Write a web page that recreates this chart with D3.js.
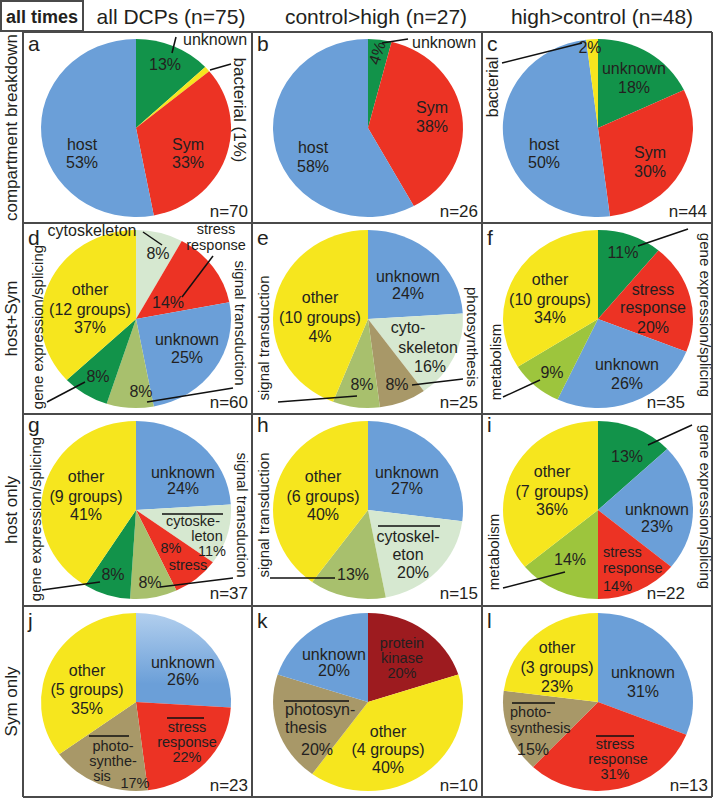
<!DOCTYPE html>
<html><head><meta charset="utf-8">
<script src="https://cdn.jsdelivr.net/npm/d3@7"></script>
<style>
body{margin:0;background:#fff}
svg{display:block}
text{font-family:"Liberation Sans",Arial,Helvetica,sans-serif;fill:#231f20}
</style>
</head><body><svg id="c" width="715" height="799"></svg>
<script>
// ---------- data ----------
const headerBox = "all times";
const columnTitles = ["all DCPs (n=75)", "control>high (n=27)", "high>control (n=48)"];
const rowTitles = ["compartment breakdown", "host+Sym", "host only", "Sym only"];
const panelLetters = ["a","b","c","d","e","f","g","h","i","j","k","l"];
const nLabels = ["n=70","n=26","n=44","n=60","n=25","n=35","n=37","n=15","n=22","n=23","n=10","n=13"];

const catsA = ["unknown","bacterial","Sym","host"];            const valsA = [13,1,33,53];
const catsB = ["unknown","Sym","host"];                        const valsB = [4,38,58];
const catsC = ["unknown","Sym","host","bacterial"];            const valsC = [18,30,50,2];
const catsD = ["cytoskeleton","stress response","unknown","signal transduction","gene expression/splicing","other"]; const valsD = [8,14,25,8,8,37];
const catsE = ["unknown","cytoskeleton","photosynthesis","signal transduction","other"]; const valsE = [24,16,8,8,44];
const catsF = ["gene expression/splicing","stress response","unknown","metabolism","other"]; const valsF = [11,20,26,9,34];
const catsG = ["unknown","cytoskeleton","stress response","signal transduction","gene expression/splicing","other"]; const valsG = [24,11,8,8,8,41];
const catsH = ["unknown","cytoskeleton","signal transduction","other"]; const valsH = [27,20,13,40];
const catsI = ["gene expression/splicing","unknown","stress response","metabolism","other"]; const valsI = [13,23,14,14,36];
const catsJ = ["unknown","stress response","photosynthesis","other"]; const valsJ = [26,22,17,35];
const catsK = ["protein kinase","other","photosynthesis","unknown"]; const valsK = [20,40,20,20];
const catsL = ["unknown","stress response","photosynthesis","other"]; const valsL = [31,31,15,23];

const panelCats = [catsA,catsB,catsC,catsD,catsE,catsF,catsG,catsH,catsI,catsJ,catsK,catsL];
const panelVals = [valsA,valsB,valsC,valsD,valsE,valsF,valsG,valsH,valsI,valsJ,valsK,valsL];

// ---------- styles ----------
const BLUE="#6b9fd8", RED="#ec3324", DGREEN="#12934a", YELLOW="#f6e61e", LGREEN="#d6e8d0",
      OLIVE="#a8c06d", YGREEN="#9dc53d", BROWN="#a89868", DRED="#9d1b1f";
const compColors = {host:BLUE, Sym:RED, unknown:DGREEN, bacterial:YELLOW};
const funcColors = {"unknown":BLUE,"other":YELLOW,"cytoskeleton":LGREEN,"stress response":RED,
  "signal transduction":OLIVE,"gene expression/splicing":DGREEN,"metabolism":YGREEN,
  "photosynthesis":BROWN,"protein kinase":DRED};

const W=715,H=799;
const colLeft=[23,252,482,712], rowTop=[32,223,414,606,797];
const pieCX=[136,368,598], pieDY=96, RX=95, RY=89;
const letterY=[51,245,432,628];

// annotation layout (text: [text,x,y,anchor,rotation,size]; line: [x1,y1,x2,y2])
const T=(t,x,y,a="middle",r=0,s=16)=>({t,x,y,a,r,s});
const S=(t,x,y,a="middle")=>({t,x,y,a,r:0,s:14.5});
const L=(x1,y1,x2,y2)=>({x1,y1,x2,y2});
const OV=(x1,x2,y)=>({x1,y1:y,x2,y2:y,w:1.3});
const notes = [
 [T("unknown",183,45,"start"),L(176,37,172,53),T("13%",165,70),T("host",82,150),T("53%",82,168),
  T("Sym",188,150),T("33%",188,168),T("bacterial (1%)",239,110,"middle",90,17),L(210,70,231,64)],
 [T("4%",377,53,"middle",-72),L(382,43,408,39),T("unknown",412,48,"start"),T("Sym",432,113),T("38%",432,132),
  T("host",313,153),T("58%",313,172)],
 [T("2%",590,53),L(502,63,582,43),T("bacterial",492,87,"middle",-90),T("unknown",634,74),T("18%",634,93),
  T("Sym",650,158),T("30%",650,177),T("host",544,150),T("50%",544,168)],
 [T("cytoskeleton",92,236),L(143,232,162,245),S("stress",216,234),S("response",216,250),T("8%",158,259),
  T("14%",168,308),L(182,297,213,256),T("other",90,295),T("(12 groups)",90,315),T("37%",90,333),
  T("unknown",187,345),T("25%",187,363),T("8%",98,382),T("8%",141,397),
  T("gene expression/splicing",37,327,"middle",-90,15),L(47,402,85,382),
  T("signal transduction",240,323,"middle",90,15),L(147,402,233,388)],
 [T("unknown",408,282),T("24%",408,299),T("other",320,303),T("(10 groups)",320,323),T("4%",320,342),
  T("cyto-",408,333),T("skeleton",428,353),T("16%",430,372),T("8%",362,390),T("8%",397,390),
  T("signal transduction",263,338,"middle",-90,15),L(278,402,357,396),
  T("photosynthesis",472,337,"middle",90,15),L(412,385,463,379)],
 [T("11%",623,258),L(638,246,688,229),T("gene expression/splicing",705,315,"middle",90,15),
  T("stress",653,295),T("response",653,313),T("20%",653,333),T("other",550,285),T("(10 groups)",550,305),T("34%",550,323),
  T("unknown",627,370),T("26%",627,389),T("9%",552,378),L(503,397,540,380),T("metabolism",495,362,"middle",-90,15)],
 [T("other",86,482),T("(9 groups)",86,502),T("41%",86,520),T("unknown",183,478),T("24%",183,494),
  OV(162,223,514),S("cytoske-",193,526),S("leton",207,541),S("11%",212,556),S("8%",171,553),S("stress",188,570),
  T("8%",113,580),T("8%",150,588),T("gene expression/splicing",35,519,"middle",-90,15),L(42,590,100,582),
  T("signal transduction",242,515,"middle",90,15),L(160,587,233,578)],
 [T("other",323,482),T("(6 groups)",323,502),T("40%",323,520),T("unknown",407,478),T("27%",407,494),
  OV(378,440,526),T("cytoskel-",408,542),T("eton",408,560),T("20%",413,578),T("13%",353,580),L(270,578,335,578),
  T("signal transduction",263,515,"middle",-90,15)],
 [T("13%",627,462),L(648,445,692,425),T("gene expression/splicing",705,507,"middle",90,15),
  T("other",552,477),T("(7 groups)",552,497),T("36%",552,515),T("unknown",657,515),T("23%",657,532),
  T("14%",570,565),L(503,588,565,572),S("stress",603,557,"start"),S("response",603,573,"start"),S("14%",603,591,"start"),
  T("metabolism",493,552,"middle",-90,15)],
 [T("other",87,676),T("(5 groups)",87,695),T("35%",87,714),T("unknown",183,668),T("26%",183,685),
  OV(167,204,718),S("stress",187,732),S("response",187,747),S("22%",187,762),
  OV(89,129,736),S("photo-",113,751),S("synthe-",113,766),S("sis",102,781),S("17%",135,788)],
 [S("protein",402,648),S("kinase",402,663),S("20%",402,678),T("unknown",334,660),T("20%",334,676),
  OV(284,349,701),T("photosyn-",285,715,"start"),T("thesis",285,733,"start"),T("20%",317,755),
  T("other",388,737),T("(4 groups)",388,755),T("40%",388,773)],
 [T("other",557,653),T("(3 groups)",557,673),T("23%",557,692),T("unknown",643,678),T("31%",643,697),
  OV(512,555,703),S("photo-",510,717,"start"),S("synthesis",510,733,"start"),T("15%",533,755),
  OV(596,634,736),S("stress",615,749),S("response",618,764),S("31%",615,779)]
];
const nLabelX=[248,478,707,248,478,685,248,478,685,248,478,708];

// ---------- draw ----------
const svg=d3.select("#c");
const defs=svg.append("defs");
const grad=defs.append("linearGradient").attr("id","gradBlue").attr("x1",0).attr("y1",0).attr("x2",0).attr("y2",1);
grad.append("stop").attr("offset","0%").attr("stop-color","#b2cfee");
grad.append("stop").attr("offset","75%").attr("stop-color",BLUE);

const pie=d3.pie().sort(null).value(d=>d.v);
const arc=d3.arc().innerRadius(0).outerRadius(RY);

panelCats.forEach((cats,i)=>{
  const r=Math.floor(i/3), c=i%3;
  const data=cats.map((k,j)=>({k,v:panelVals[i][j]}));
  const colors = r===0?compColors:funcColors;
  const g=svg.append("g").attr("transform",`translate(${pieCX[c]},${rowTop[r]+pieDY}) scale(${RX/RY},1)`);
  g.selectAll("path").data(pie(data)).join("path")
    .attr("d",arc)
    .attr("fill",d=>(i===9&&d.data.k==="unknown")?"url(#gradBlue)":colors[d.data.k]);
});

// grid
const gc="#4a4a4a";
const grid=svg.append("g").attr("stroke",gc).attr("stroke-width",2).attr("fill","none");
rowTop.forEach(y=>grid.append("line").attr("x1",colLeft[0]).attr("x2",colLeft[3]).attr("y1",y).attr("y2",y));
colLeft.forEach(x=>grid.append("line").attr("x1",x).attr("x2",x).attr("y1",rowTop[0]).attr("y2",rowTop[4]));
grid.append("rect").attr("x",1).attr("y",1).attr("width",82).attr("height",30);

// headers
svg.append("text").attr("x",42).attr("y",23).attr("text-anchor","middle").attr("font-size",18).attr("font-weight","bold").text(headerBox);
const titleX=[171,376,602];
columnTitles.forEach((t,i)=>svg.append("text").attr("x",titleX[i]).attr("y",24).attr("text-anchor","middle").attr("font-size",21).text(t));
rowTitles.forEach((t,i)=>svg.append("text").attr("transform",`translate(11.5,${(rowTop[i]+rowTop[i+1])/2}) rotate(-90)`)
  .attr("text-anchor","middle").attr("dominant-baseline","central").attr("font-size",17).text(t));

// letters & n
panelLetters.forEach((t,i)=>{
  const r=Math.floor(i/3), c=i%3;
  svg.append("text").attr("x",colLeft[c]+5).attr("y",letterY[r]).attr("font-size",21).text(t);
  svg.append("text").attr("x",nLabelX[i]).attr("y",rowTop[r]+185).attr("text-anchor","end").attr("font-size",17).text(nLabels[i]);
});

// annotations
notes.forEach(list=>list.forEach(n=>{
  if(n.t!==undefined){
    const el=svg.append("text").attr("font-size",n.s).attr("text-anchor",n.a);
    if(n.r){el.attr("transform",`translate(${n.x},${n.y}) rotate(${n.r})`).attr("dominant-baseline","central");}
    else el.attr("x",n.x).attr("y",n.y);
    el.text(n.t);
  } else {
    svg.append("line").attr("x1",n.x1).attr("y1",n.y1).attr("x2",n.x2).attr("y2",n.y2)
      .attr("stroke","#111").attr("stroke-width",n.w||1.5);
  }
}));
</script>
</body></html>
